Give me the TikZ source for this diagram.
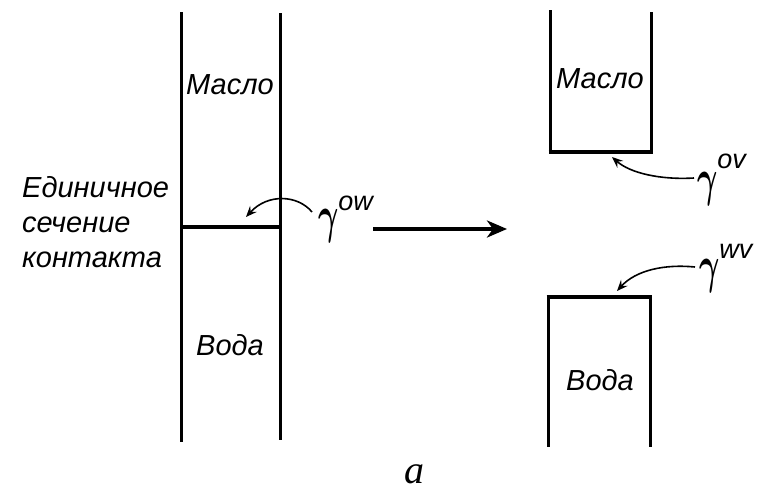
\documentclass[tikz,border=0pt]{standalone}
\usepackage{fontspec}
\usepackage{unicode-math}
\usepackage{graphicx}
\setmainfont{Liberation Sans}
\setmathfont{Latin Modern Math}
\newfontfamily\serfont{Liberation Serif}
\usetikzlibrary{arrows.meta}
\newcommand{\gamlabel}[2]{\scalebox{0.78}[1.3]{\fontsize{40}{40}\selectfont$\symbfit{\gamma}$}\raisebox{#2}{\fontsize{27}{27}\selectfont\itshape #1}}
\tikzset{
  wall/.style={line width=3pt},
  iface/.style={line width=3.8pt},
  lbl/.style={font=\fontsize{29}{35}\selectfont\itshape, inner sep=0pt},
  gam/.style={inner sep=0pt, anchor=base west},
  pointer/.style={line width=1.6pt, -{Stealth[length=11pt,width=9pt,inset=4pt]}},
  bigarrow/.style={line width=4.2pt, -{Stealth[length=20pt,width=17pt,inset=6pt]}}
}
\begin{document}
\begin{tikzpicture}[x=1pt,y=-1pt]
\useasboundingbox (0,0) rectangle (771,493);
% left column
\draw[wall] (181,12) -- (181,442);
\draw[wall] (280,13) -- (280,440);
\draw[iface] (181,227) -- (280,227);
\node[lbl, anchor=base] (oilL) at (230,94) {Масло};
\node[lbl, anchor=base] (waterL) at (230,355) {Вода};
\node[lbl, anchor=base west] (t1) at (22,197) {Единичное};
\node[lbl, anchor=base west] (t2) at (22,232) {сечение};
\node[lbl, anchor=base west] (t3) at (22,267) {контакта};
\node[gam] (gow) at (318,232) {\gamlabel{ow}{22pt}};
\coordinate (gowtail) at (312,212);
\coordinate (owtip) at (246,217);
\draw[pointer] (gowtail) .. controls (298,195) and (268,193) .. (owtip);
% big arrow
\coordinate (ba) at (373,229);
\coordinate (bb) at (507,229);
\draw[bigarrow] (ba) -- (bb);
% oil box
\draw[wall] (550,10) -- (550,152);
\draw[wall] (651,12) -- (651,152);
\draw[iface] (548.5,152) -- (652.5,152);
\node[lbl, anchor=base] (oilR) at (600,88) {Масло};
\node[gam] (gov) at (697,195) {\gamlabel{ov}{27pt}};
\coordinate (govtail) at (694,178);
\coordinate (ovtip) at (612,157);
\draw[pointer] (govtail) .. controls (660,180) and (630,173) .. (ovtip);
% water box
\draw[iface] (546.5,297) -- (651.5,297);
\draw[wall] (548,297) -- (548,447);
\draw[wall] (650,297) -- (650,447);
\node[lbl, anchor=base] (waterR) at (600,390) {Вода};
\node[gam] (gwv) at (699,282) {\gamlabel{wv}{24pt}};
\coordinate (gwvtail) at (695,267);
\coordinate (wvtip) at (617,291);
\draw[pointer] (gwvtail) .. controls (665,264) and (636,270) .. (wvtip);
% caption
\node[inner sep=0pt, anchor=base, font=\serfont\fontsize{40}{40}\selectfont\itshape] (cap) at (414,483) {а};
\end{tikzpicture}
\end{document}
